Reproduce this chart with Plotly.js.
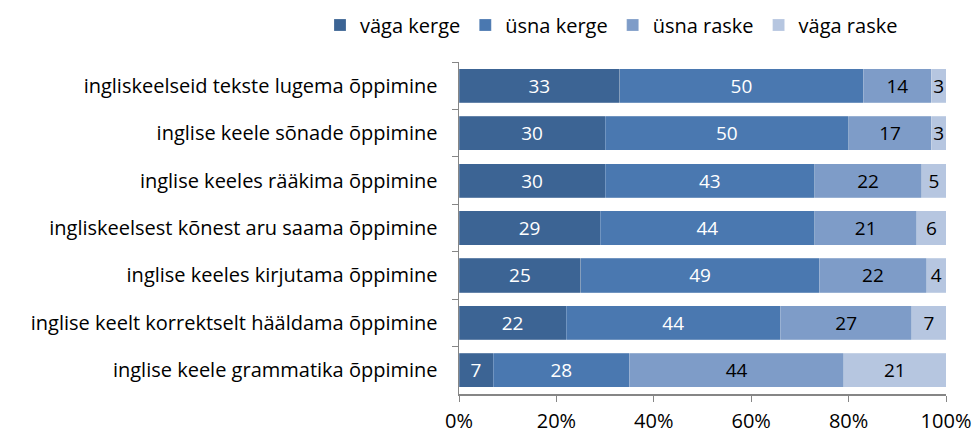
<!DOCTYPE html>
<html><head><meta charset="utf-8">
<script src="https://cdn.plot.ly/plotly-3.0.1.min.js"></script>
<style>body{margin:0;background:#fff}#c{width:976px;height:435px}</style>
</head><body><div id="c"></div>
<script>
const categories = [
  "ingliskeelseid tekste lugema õppimine",
  "inglise keele sõnade õppimine",
  "inglise keeles rääkima õppimine",
  "ingliskeelsest kõnest aru saama õppimine",
  "inglise keeles kirjutama õppimine",
  "inglise keelt korrektselt hääldama õppimine",
  "inglise keele grammatika õppimine"
];
const seriesNames = ["väga kerge", "üsna kerge", "üsna raske", "väga raske"];
const vagaKerge = [33, 30, 30, 29, 25, 22, 7];
const usnaKerge = [50, 50, 43, 44, 49, 44, 28];
const usnaRaske = [14, 17, 22, 21, 22, 27, 44];
const vagaRaske = [3, 3, 5, 6, 4, 7, 21];
const xTickVals = [0, 20, 40, 60, 80, 100];
const xTickText = ["0%", "20%", "40%", "60%", "80%", "100%"];

const colors = ["#3C6494", "#4A78B0", "#7E9CC8", "#B6C6E0"];
const textColors = ["#ffffff", "#ffffff", "#000000", "#000000"];
const values = [vagaKerge, usnaKerge, usnaRaske, vagaRaske];
const FONT = "'Open Sans', Lato, sans-serif";

const traces = values.map((v, i) => ({
  type: "bar",
  orientation: "h",
  name: seriesNames[i],
  y: categories,
  x: v,
  text: v.map(String),
  textposition: "inside",
  insidetextanchor: "middle",
  textfont: {family: FONT, size: 19, color: textColors[i]},
  marker: {color: colors[i], line: {color: "rgba(255,255,255,0.35)", width: 0.6}},
  hoverinfo: "skip"
}));

const layout = {
  width: 976, height: 435,
  margin: {l: 459, r: 30, t: 62, b: 41, autoexpand: false},
  barmode: "stack",
  bargap: 0.28,
  paper_bgcolor: "#fff", plot_bgcolor: "#fff",
  font: {family: FONT, size: 20, color: "#000"},
  uniformtext: {minsize: 19, mode: "show"},
  showlegend: true,
  legend: {orientation: "h", x: (320 - 459) / 487, xanchor: "left",
           y: 1 + (62 - 25) / 332, yanchor: "middle",
           font: {family: FONT, size: 20, color: "#000"}, traceorder: "normal"},
  xaxis: {range: [0, 100], tickvals: xTickVals, ticktext: xTickText, showgrid: false, zeroline: false,
          showline: true, linecolor: "#868686", linewidth: 1.5, ticks: "outside", ticklen: 6, tickcolor: "#868686",
          tickfont: {family: FONT, size: 20, color: "#000"}, ticklabelstandoff: 2, fixedrange: true},
  yaxis: {type: "category", categoryorder: "array", categoryarray: categories.slice(), autorange: "reversed",
          showgrid: false, zeroline: false, showline: true, linecolor: "#868686", linewidth: 1.5,
          ticks: "outside", tickson: "boundaries", ticklen: 6, tickcolor: "#868686",
          tickfont: {family: FONT, size: 20, color: "#000"}, ticklabelstandoff: 16}
};
Plotly.newPlot("c", traces, layout, {displayModeBar: false, staticPlot: true});
</script></body></html>
